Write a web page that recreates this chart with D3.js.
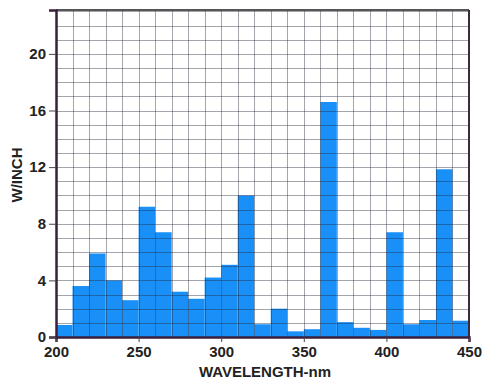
<!DOCTYPE html>
<html>
<head>
<meta charset="utf-8">
<script src="https://cdn.jsdelivr.net/npm/d3@7"></script>
<style>
  html, body { margin: 0; padding: 0; background: #fff; }
  svg text { font-family: "Liberation Sans", Arial, sans-serif; font-weight: bold; fill: #222; }
</style>
</head>
<body>
<svg id="chart" width="484" height="381"></svg>
<script>
// wavelength bins (nm, left edge, 10 nm wide)
const wavelengths = [200, 210, 220, 230, 240, 250, 260, 270, 280, 290, 300, 310, 320,
                     330, 340, 350, 360, 370, 380, 390, 400, 410, 420, 430, 440];
// output, W/inch
const output = [0.85, 3.6, 5.9, 4.0, 2.6, 9.2, 7.4, 3.2, 2.7, 4.2, 5.1, 10.0, 0.9,
                2.0, 0.4, 0.55, 16.6, 1.05, 0.65, 0.5, 7.4, 0.9, 1.2, 11.85, 1.15];
const xTicks = [200, 250, 300, 350, 400, 450];
const yTicks = [0, 4, 8, 12, 16, 20];

const svg = d3.select('#chart');
const plot = { left: 56, right: 469, top: 10, bottom: 337 };

const x = d3.scaleLinear().domain([200, 450]).range([plot.left, plot.right]);
const y = d3.scaleLinear().domain([0, 23.1]).range([plot.bottom, plot.top]);

// bars
svg.append('g')
  .selectAll('rect')
  .data(wavelengths)
  .join('rect')
  .attr('x', d => x(d))
  .attr('width', d => x(d + 10) - x(d))
  .attr('y', (d, i) => y(output[i]))
  .attr('height', (d, i) => y(0) - y(output[i]))
  .attr('fill', '#1890f8');

// grid: every 10 nm and every 1 W/inch, drawn over bars
const grid = svg.append('g').attr('stroke', 'rgba(40,40,60,0.42)').attr('stroke-width', 1);
grid.selectAll('line.v')
  .data(d3.range(210, 450, 10))
  .join('line')
  .attr('class', 'v')
  .attr('x1', d => Math.round(x(d)) + 0.5).attr('x2', d => Math.round(x(d)) + 0.5)
  .attr('y1', plot.top).attr('y2', plot.bottom);
grid.selectAll('line.h')
  .data(d3.range(1, 24, 1))
  .join('line')
  .attr('class', 'h')
  .attr('y1', d => Math.round(y(d)) + 0.5).attr('y2', d => Math.round(y(d)) + 0.5)
  .attr('x1', plot.left).attr('x2', plot.right);

// frame
svg.append('line').attr('x1', plot.left).attr('x2', plot.right).attr('y1', plot.top).attr('y2', plot.top)
  .attr('stroke', '#555').attr('stroke-width', 2);
svg.append('line').attr('x1', plot.right).attr('x2', plot.right).attr('y1', plot.top).attr('y2', plot.bottom)
  .attr('stroke', '#3a2a3a').attr('stroke-width', 2);

// axes
const xAxis = d3.axisBottom(x).tickValues(xTicks).tickSize(5).tickPadding(4);
const yAxis = d3.axisLeft(y).tickValues(yTicks).tickSize(7).tickPadding(3);

const gx = svg.append('g').attr('transform', `translate(0,${plot.bottom})`).call(xAxis);
const gy = svg.append('g').attr('transform', `translate(${plot.left},0)`).call(yAxis);

[gx, gy].forEach(g => {
  g.select('.domain').attr('stroke', '#3a1f3a').attr('stroke-width', 2.5);
  g.selectAll('.tick line').attr('stroke', '#444');
  g.selectAll('.tick text').style('font-size', '15px').style('font-family', '"Liberation Sans", Arial, sans-serif').style('font-weight', 'bold').attr('fill', '#222');
});

// axis titles
svg.append('text')
  .attr('x', 265).attr('y', 377)
  .attr('text-anchor', 'middle')
  .style('font-size', '15px')
  .text('WAVELENGTH-nm');

svg.append('text')
  .attr('transform', 'translate(22,175) rotate(-90)')
  .attr('text-anchor', 'middle')
  .style('font-size', '15px')
  .text('W/INCH');
</script>
</body>
</html>
